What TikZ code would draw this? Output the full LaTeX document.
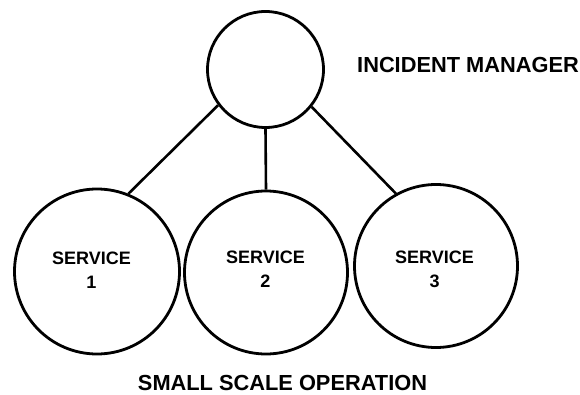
\documentclass[tikz,border=0pt]{standalone}
\usepackage{fontspec}
\setmainfont{Liberation Sans}
\begin{document}
\begin{tikzpicture}[x=1pt,y=-1pt,
  ring/.style={circle,draw,line width=2.8pt,inner sep=0pt},
  conn/.style={line width=2.6pt},
  biglabel/.style={font=\fontsize{21.8}{24}\selectfont\bfseries,inner sep=0pt},
  svclabel/.style={font=\fontsize{18}{24}\selectfont\bfseries,align=center,inner sep=0pt}]
\useasboundingbox (0,0) rectangle (580,395);
\node[ring,minimum size=116pt] (top) at (265.5,69.5) {};
\node[ring,minimum size=165pt] (s1) at (97,271.5) {};
\node[ring,minimum size=163pt] (s2) at (266,272.5) {};
\node[ring,minimum size=163pt] (s3) at (436,266) {};
\node[svclabel] (t1) at (91.5,270.5) {SERVICE\\1};
\node[svclabel] (t2) at (265.5,269.5) {SERVICE\\2};
\node[svclabel] (t3) at (434.5,269) {SERVICE\\3};
\node[biglabel,anchor=base west] (im) at (357,73) {INCIDENT MANAGER};
\node[biglabel,anchor=base] (sso) at (282.5,390) {SMALL SCALE OPERATION};
\draw[conn] (top.217) -- (s1.68);
\draw[conn] (top.south) -- (s2.north);
\draw[conn] (top.-39) -- (s3.119);
\end{tikzpicture}
\end{document}
